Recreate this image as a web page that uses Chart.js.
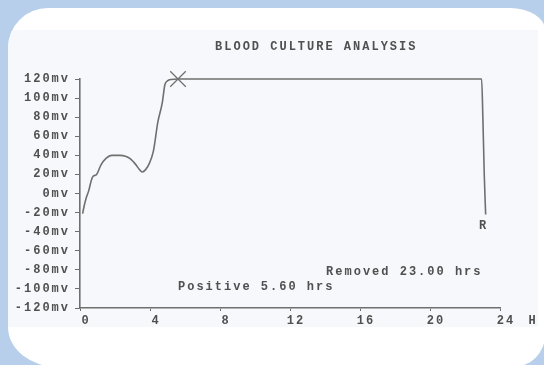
<!DOCTYPE html>
<html>
<head>
<meta charset="utf-8">
<script src="https://cdn.jsdelivr.net/npm/chart.js@4.4.1/dist/chart.umd.min.js"></script>
<style>
  html, body { margin: 0; padding: 0; }
  body { width: 544px; height: 365px; background: #b7cfea; position: relative; overflow: hidden; }
  #panel {
    position: absolute; left: 8px; top: 8px; width: 537px; height: 359px;
    background: #ffffff; overflow: hidden;
    border-radius: 40px 35px 32px 50px / 40px 22px 32px 40px;
  }
  #sheet { position: absolute; left: 0; top: 22px; width: 530px; height: 297px; background: #f6f8fb; }
  #c { position: absolute; left: 0; top: 0; }
</style>
</head>
<body>
<div id="panel"><div id="sheet"></div></div>
<canvas id="c" width="544" height="365"></canvas>
<script>
// Sensor trace: elapsed time (hours) and signal (mV)
const hours = [0.15, 0.25, 0.35, 0.5, 0.65, 0.75, 0.95, 1.2, 1.5, 1.8, 2.05, 2.3, 2.6, 2.9, 3.2, 3.4, 3.55, 3.75, 3.95, 4.2, 4.45, 4.7, 4.85, 5.0, 5.2, 5.6, 22.95, 23.02, 23.1, 23.18];
const millivolts = [-21, -12, -5, 3, 14, 18, 20, 30, 37, 40, 40, 40, 39, 36, 30, 25, 22.5, 25, 31, 45, 75, 95, 114, 118, 119.5, 120, 120, 80, 20, -22];

// Event markers
const positiveAt = 5.6;     // hrs, flagged positive
const positiveLevel = 120;  // mV at the flag
const removedAt = 23.0;     // hrs, bottle removed

// Axis ticks
const xTicks = [0, 4, 8, 12, 16, 20, 24];
const yTicks = [120, 100, 80, 60, 40, 20, 0, -20, -40, -60, -80, -100, -120];
const yUnit = 'mv';
const xUnit = 'H';

const ink = '#6f6f6f';
const textInk = '#505050';
const printFont = { family: "'Liberation Mono', 'DejaVu Sans Mono', monospace", size: 12, weight: 'bold' };
const fontCss = "bold 12px 'Liberation Mono', 'DejaVu Sans Mono', monospace";
const spacing = '2px';

// Wide dot-matrix style spacing for every canvas string
const printerSpacing = {
  id: 'printerSpacing',
  beforeLayout(chart) { chart.ctx.letterSpacing = spacing; },
  beforeDraw(chart) { chart.ctx.letterSpacing = spacing; }
};

// Title, event notes and the unit label
const printedNotes = {
  id: 'printedNotes',
  afterDraw(chart) {
    const { ctx, scales: { x, y }, chartArea } = chart;
    ctx.save();
    ctx.letterSpacing = spacing;
    ctx.font = fontCss;
    ctx.fillStyle = textInk;
    ctx.textBaseline = 'middle';

    ctx.textAlign = 'center';
    ctx.fillText('BLOOD CULTURE ANALYSIS', x.getPixelForValue(13.5), chartArea.top - 32);

    ctx.textAlign = 'right';
    ctx.fillText('Removed ' + removedAt.toFixed(2) + ' hrs', x.getPixelForValue(removedAt), y.getPixelForValue(-82));

    ctx.textAlign = 'left';
    ctx.fillText('Positive ' + positiveAt.toFixed(2) + ' hrs', x.getPixelForValue(positiveAt), y.getPixelForValue(-98));

    ctx.textAlign = 'center';
    ctx.fillText('R', x.getPixelForValue(removedAt) + 1, y.getPixelForValue(-34));

    ctx.fillText(xUnit, x.right + 33, chartArea.bottom + 13);
    ctx.restore();
  }
};

new Chart(document.getElementById('c').getContext('2d'), {
  type: 'line',
  data: {
    datasets: [
      {
        data: hours.map((h, i) => ({ x: h, y: millivolts[i] })),
        borderColor: ink,
        borderWidth: 1.6,
        pointRadius: 0,
        tension: 0.4,
        cubicInterpolationMode: 'monotone',
        clip: false
      },
      {
        data: [{ x: positiveAt, y: positiveLevel }],
        showLine: false,
        pointStyle: 'crossRot',
        pointRadius: 11,
        borderColor: ink,
        borderWidth: 1.3,
        clip: false
      }
    ]
  },
  options: {
    responsive: false,
    animation: false,
    devicePixelRatio: 1,
    layout: { padding: { left: 0, right: 44, top: 79, bottom: 0 } },
    plugins: { legend: { display: false }, tooltip: { enabled: false }, title: { display: false } },
    scales: {
      x: {
        type: 'linear', min: 0, max: 24,
        afterBuildTicks: s => { s.ticks = xTicks.map(v => ({ value: v })); },
        afterFit: s => { s.height = 57; },
        ticks: { autoSkip: false, maxRotation: 0, labelOffset: 6, padding: 3, color: textInk, font: printFont },
        grid: { drawOnChartArea: false, tickLength: 3, color: ink, lineWidth: 1 },
        border: { color: ink, width: 1.6 }
      },
      y: {
        type: 'linear', min: -120, max: 120,
        afterBuildTicks: s => { s.ticks = yTicks.map(v => ({ value: v })); },
        afterFit: s => { s.width = 80; },
        ticks: { autoSkip: false, padding: 5, color: textInk, font: printFont, callback: v => v + yUnit },
        grid: { drawOnChartArea: false, tickLength: 5, color: ink, lineWidth: 1 },
        border: { color: ink, width: 1.6 }
      }
    }
  },
  plugins: [printerSpacing, printedNotes]
});
</script>
</body>
</html>
